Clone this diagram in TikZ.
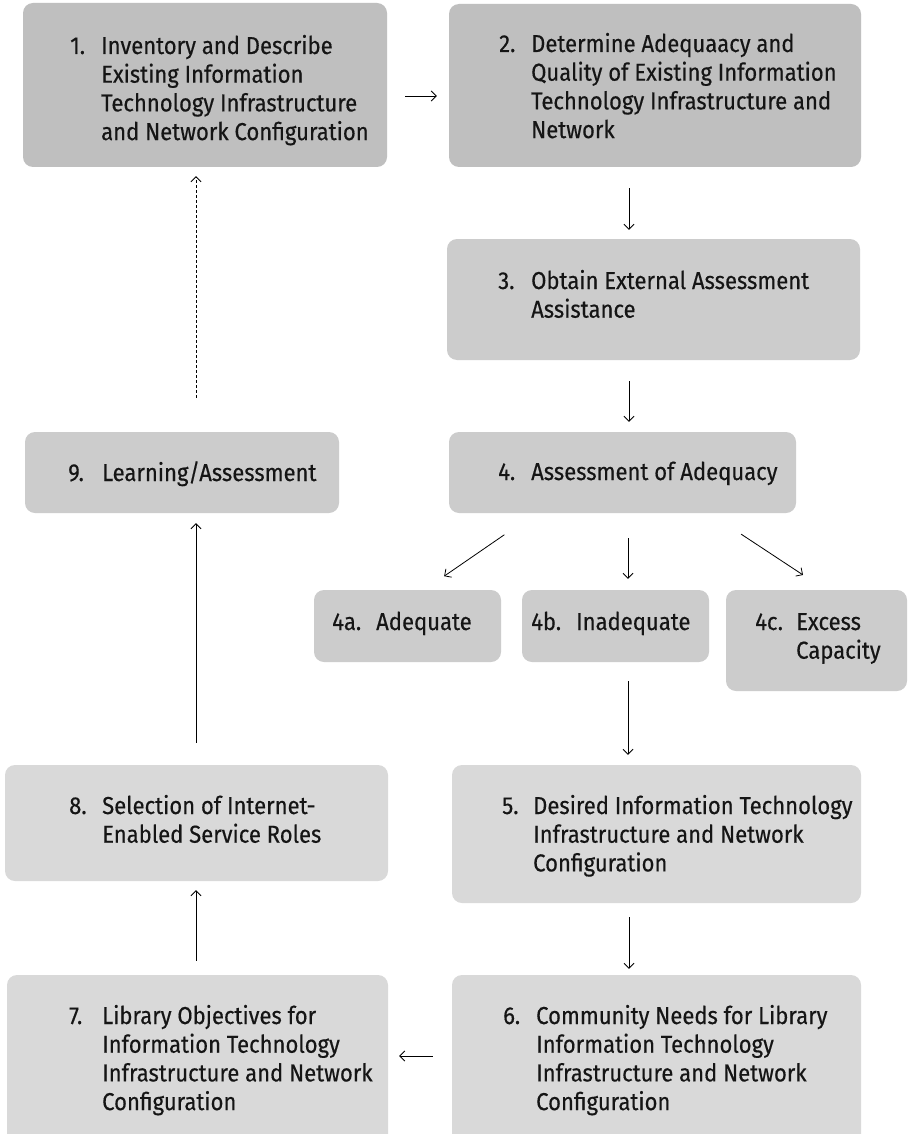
\documentclass[tikz,border=0pt]{standalone}
\usepackage{fontspec}
\newfontfamily\lab{Fira Sans}[FakeBold=0.4,FakeStretch=0.9]
\usetikzlibrary{arrows.meta,calc}
\definecolor{gA}{gray}{0.75}
\definecolor{gB}{gray}{0.80}
\definecolor{gC}{gray}{0.85}
\definecolor{txt}{HTML}{151515}
\tikzset{
  gbox/.style={rectangle, rounded corners=10pt, draw=none, inner sep=0pt},
  lbl/.style={anchor=base west, inner sep=0pt, text=txt, font=\lab\fontsize{24.5}{28.7}\selectfont},
  arr/.style={draw=black, line width=0.8pt, -{Straight Barb[length=5pt,width=10pt]}},
}
\newcommand\steptext[3]{\begin{tabular}[t]{@{}p{#1}@{}l@{}}#2&#3\end{tabular}}
\begin{document}
\begin{tikzpicture}[x=1pt,y=-1pt]
\clip (0,0) rectangle (908,1134);
\fill[white] (0,0) rectangle (908,1134);
% boxes
\node[gbox, fill=gA, minimum width=364pt, minimum height=164pt] (b1) at (205,85) {};
\node[gbox, fill=gA, minimum width=412pt, minimum height=163pt] (b2) at (655,85.5) {};
\node[gbox, fill=gB, minimum width=413pt, minimum height=121pt] (b3) at (653.5,299.5) {};
\node[gbox, fill=gB, minimum width=347pt, minimum height=81pt] (b4) at (622.5,472.5) {};
\node[gbox, fill=gB, minimum width=314pt, minimum height=81pt] (b9) at (182,472.5) {};
\node[gbox, fill=gB, minimum width=187pt, minimum height=72pt] (b4a) at (407.5,626) {};
\node[gbox, fill=gB, minimum width=187pt, minimum height=72pt] (b4b) at (615.5,626) {};
\node[gbox, fill=gB, minimum width=181pt, minimum height=101pt] (b4c) at (816.5,640.5) {};
\node[gbox, fill=gC, minimum width=409pt, minimum height=138pt] (b5) at (656.5,834) {};
\node[gbox, fill=gC, minimum width=383pt, minimum height=116pt] (b8) at (196.5,823) {};
\node[gbox, fill=gC, minimum width=409pt, minimum height=175pt] (b6) at (656.5,1062.5) {};
\node[gbox, fill=gC, minimum width=381pt, minimum height=175pt] (b7) at (197.5,1062.5) {};
% texts
\node[lbl] (t1) at (70,54) {\steptext{31pt}{1.}{Inventory and Describe\\&Existing Information\\&Technology Infrastructure\\&and Network Configuration}};
\node[lbl] (t2) at (499,52) {\steptext{32pt}{2.}{Determine Adequaacy and\\&Quality of Existing Information\\&Technology Infrastructure and\\&Network}};
\node[lbl] (t3) at (498,289) {\steptext{33pt}{3.}{Obtain External Assessment\\&Assistance}};
\node[lbl] (t4) at (498,480) {\steptext{33pt}{4.}{Assessment of Adequacy}};
\node[lbl] (t9) at (68,481) {\steptext{34pt}{9.}{Learning/Assessment}};
\node[lbl] (t4a) at (332,630) {\steptext{44pt}{4a.}{Adequate}};
\node[lbl] (t4b) at (531,630) {\steptext{45pt}{4b.}{Inadequate}};
\node[lbl] (t4c) at (755,630) {\steptext{41pt}{4c.}{Excess\\&Capacity}};
\node[lbl] (t5) at (502,814) {\steptext{31pt}{5.}{Desired Information Technology\\&Infrastructure and Network\\&Configuration}};
\node[lbl] (t8) at (69,814) {\steptext{33pt}{8.}{Selection of Internet-\\&Enabled Service Roles}};
\node[lbl] (t6) at (503,1024) {\steptext{33pt}{6.}{Community Needs for Library\\&Information Technology\\&Infrastructure and Network\\&Configuration}};
\node[lbl] (t7) at (69,1024) {\steptext{33pt}{7.}{Library Objectives for\\&Information Technology\\&Infrastructure and Network\\&Configuration}};
% guide coordinates
\coordinate (cR) at (629,0);
\coordinate (cL) at (196,0);
\coordinate (cM) at (628,0);
\coordinate (r1) at (0,96);
\coordinate (r6) at (0,1056);
% connectors
\draw[arr, shorten <=18pt, shorten >=12pt] (b1.east |- r1) -- (b2.west |- r1);
\draw[arr, shorten <=21pt, shorten >=9pt] (b2.south -| cR) -- (b3.north -| cR);
\draw[arr, shorten <=21pt, shorten >=10pt] (b3.south -| cR) -- (b4.north -| cR);
\draw[arr, shorten <=38pt, shorten >=24pt] ($(b4.south west)!0.25!(b4.south east)$) -- ($(b4a.north west)!0.59!(b4a.north east)$);
\draw[arr, shorten <=25pt, shorten >=11pt] (b4.south -| cM) -- (b4b.north -| cM);
\draw[arr, shorten <=38pt, shorten >=27pt] ($(b4.south west)!0.75!(b4.south east)$) -- ($(b4c.north west)!0.55!(b4c.north east)$);
\draw[arr, shorten <=19pt, shorten >=10pt] (b4b.south -| cM) -- (b5.north -| cM);
\draw[arr, shorten <=14pt, shorten >=6pt] (b5.south -| cR) -- (b6.north -| cR);
\draw[arr, shorten <=19pt, shorten >=11pt] (b6.west |- r6) -- (b7.east |- r6);
\draw[arr, shorten <=14pt, shorten >=9pt] (b7.north -| cL) -- (b8.south -| cL);
\draw[arr, shorten <=22pt, shorten >=10pt] (b8.north -| cL) -- (b9.south -| cL);
\draw[arr, dash pattern=on 3pt off 2pt, shorten <=34pt, shorten >=9pt] (b9.north -| cL) -- (b1.south -| cL);
\end{tikzpicture}
\end{document}
